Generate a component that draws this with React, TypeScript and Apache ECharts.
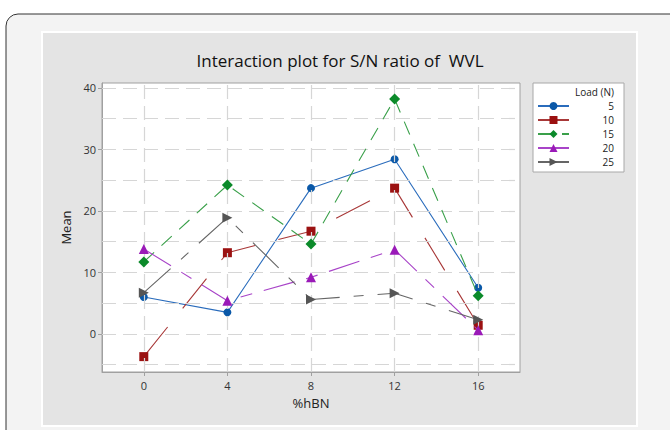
import React, { useEffect, useRef } from "react";
import * as echarts from "echarts";

const xValues = [0, 4, 8, 12, 16];
const loads = ["5", "10", "15", "20", "25"];
const load5 = [6.0, 3.5, 23.7, 28.4, 7.5];
const load10 = [-3.7, 13.2, 16.7, 23.7, 1.4];
const load15 = [11.7, 24.2, 14.6, 38.2, 6.2];
const load20 = [13.8, 5.4, 9.2, 13.7, 0.6];
const load25 = [6.7, 18.9, 5.6, 6.6, 2.3];
const yTickLabels = [0, 10, 20, 30, 40];
const yGridValues = [-5, 0, 5, 10, 15, 20, 25, 30, 35, 40];

const FONT = "'Open Sans', 'Noto Sans', sans-serif";

export default function App() {
  const ref = useRef<HTMLDivElement>(null);
  useEffect(() => {
    if (!ref.current) return;
    const chart = echarts.init(ref.current, null, { renderer: "svg" });
    const mk = (vals: number[]) => xValues.map((x, i) => [x, vals[i]]);
    const styles = [
      { data: load5, color: "#0a58a8", line: "#2a6cbc", symbol: "circle", size: 8, dash: "solid" as any },
      { data: load10, color: "#9b1111", line: "#a83838", symbol: "rect", size: 9, dash: [38, 24] },
      { data: load15, color: "#0b8a2a", line: "#3aa04a", symbol: "diamond", size: [11, 11], dash: [14, 10] },
      { data: load20, color: "#9a1ab8", line: "#a844c8", symbol: "triangle", size: 10, dash: [32, 12, 12, 12] },
      { data: load25, color: "#555555", line: "#666666", symbol: "path://M0,0 L10,5 L0,10 Z", size: 10, dash: [36, 14, 10, 14] },
    ];
    const gridLine = { type: [14, 7] as any, color: "#d6d6d6", width: 1.2 };
    const series: any[] = [
      {
        type: "line",
        name: "grid",
        data: [],
        z: 1,
        silent: true,
        markLine: {
          silent: true,
          symbol: "none",
          label: { show: false },
          animation: false,
          lineStyle: gridLine,
          data: [
            ...yGridValues.map((v) => ({ yAxis: v })),
            ...xValues.map((v) => ({ xAxis: v })),
          ],
        },
      },
      ...styles.map((s, i) => ({
        type: "line",
        name: loads[i],
        data: mk(s.data),
        z: 3 + i,
        symbol: s.symbol,
        symbolSize: s.size,
        itemStyle: { color: s.color },
        lineStyle: { color: s.line, width: 1.1, type: s.dash },
      })),
    ];
    chart.setOption({
      animation: false,
      graphic: [
        {
          type: "rect",
          z: -10,
          shape: { x: 6, y: 14, width: 680, height: 440, r: 12 },
          style: { fill: "#f3f3f3", stroke: "#333", lineWidth: 1 },
        },
        {
          type: "rect",
          z: -9,
          shape: { x: 42, y: 32, width: 595, height: 394 },
          style: { fill: "#e4e4e4", stroke: "#ffffff", lineWidth: 2 },
        },
        {
          type: "text",
          z: 10,
          x: 340,
          y: 60,
          style: {
            text: "Interaction plot for S/N ratio of  WVL",
            font: `17px ${FONT}`,
            fill: "#111",
            align: "center",
            verticalAlign: "middle",
          },
        },
        {
          type: "text",
          z: 10,
          x: 614,
          y: 92,
          style: {
            text: "Load (N)",
            font: `10px ${FONT}`,
            fill: "#222",
            align: "right",
            verticalAlign: "middle",
          },
        },
      ],
      legend: {
        orient: "vertical",
        left: 533,
        top: 83,
        padding: [18, 10, 5, 4],
        itemWidth: 31,
        itemHeight: 10,
        itemGap: 4,
        backgroundColor: "#ffffff",
        borderColor: "#a8a8a8",
        borderWidth: 1,
        data: loads,
        formatter: "{a|{name}}",
        textStyle: {
          fontSize: 10,
          color: "#222",
          fontFamily: FONT,
          rich: { a: { width: 40, align: "right", fontSize: 10, color: "#222", fontFamily: FONT } },
        },
      },
      grid: {
        left: 102,
        top: 83,
        width: 418,
        height: 289,
        show: true,
        backgroundColor: "#ffffff",
        borderColor: "#a0a0a0",
        borderWidth: 1,
      },
      xAxis: {
        type: "value",
        min: -2,
        max: 18,
        name: "%hBN",
        nameLocation: "middle",
        nameGap: 24,
        nameTextStyle: { fontSize: 13, color: "#222", fontFamily: FONT },
        axisLine: { show: true, onZero: false, lineStyle: { color: "#a0a0a0" } },
        axisTick: { show: true, length: 4, customValues: xValues, lineStyle: { color: "#a0a0a0" } },
        axisLabel: { customValues: xValues, fontSize: 11, color: "#333", margin: 8, fontFamily: FONT },
        splitLine: { show: false },
      },
      yAxis: {
        type: "value",
        min: -6.2,
        max: 40.8,
        name: "Mean",
        nameLocation: "middle",
        nameGap: 27,
        nameTextStyle: { fontSize: 13, color: "#222", fontFamily: FONT },
        axisLine: { show: true, onZero: false, lineStyle: { color: "#a0a0a0" } },
        axisTick: { show: true, length: 4, customValues: yTickLabels, lineStyle: { color: "#a0a0a0" } },
        axisLabel: { customValues: yTickLabels, fontSize: 11, color: "#333", margin: 6, fontFamily: FONT },
        splitLine: { show: false },
      },
      series,
    });
    return () => chart.dispose();
  }, []);
  return (
    <div
      ref={ref}
      style={{ position: "fixed", left: 0, top: 0, width: 670, height: 430, background: "#ffffff" }}
    />
  );
}
